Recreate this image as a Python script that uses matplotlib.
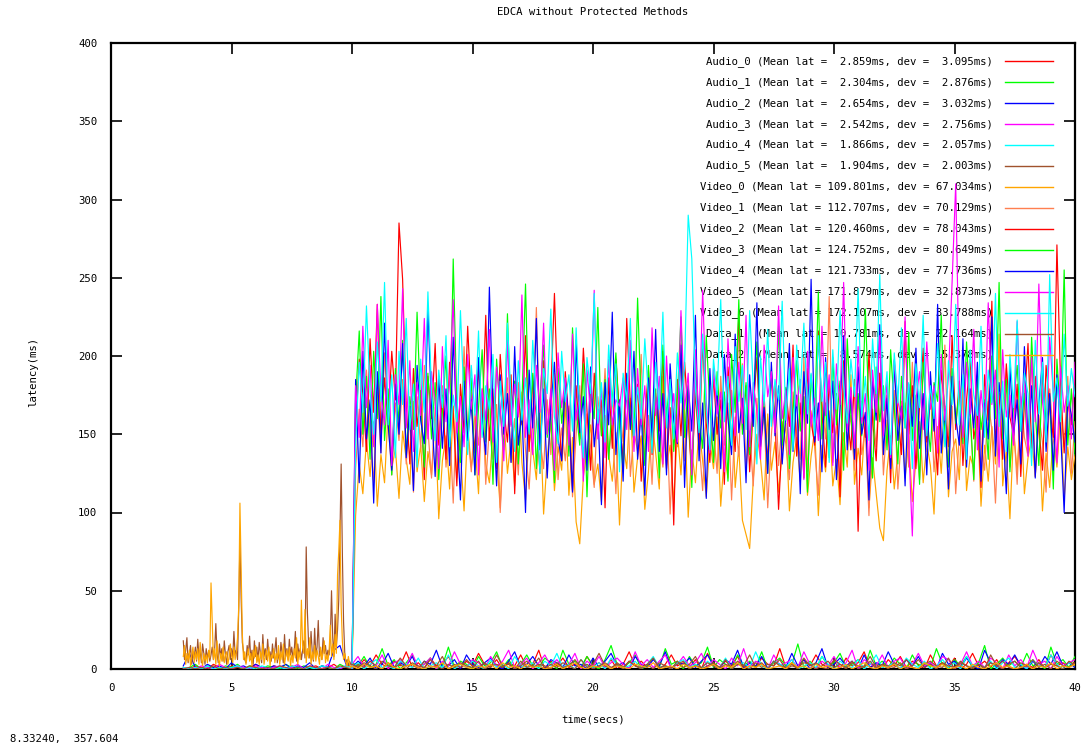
import numpy as np
import matplotlib
matplotlib.use("Agg")
import matplotlib.pyplot as plt

plt.rcParams['font.family'] = ['DejaVu Sans Mono']
FS = 7.7

TITLE = "EDCA without Protected Methods"

# series names and their summary stats (mean latency, deviation) in ms
names = ["Audio_0", "Audio_1", "Audio_2", "Audio_3", "Audio_4", "Audio_5",
         "Video_0", "Video_1", "Video_2", "Video_3", "Video_4", "Video_5", "Video_6",
         "Data_1 ", "Data_2 "]
mean_lat = [2.859, 2.304, 2.654, 2.542, 1.866, 1.904,
            109.801, 112.707, 120.460, 124.752, 121.733, 171.879, 172.107,
            10.781, 8.574]
dev_lat = [3.095, 2.876, 3.032, 2.756, 2.057, 2.003,
           67.034, 70.129, 78.043, 80.649, 77.736, 32.873, 33.788,
           22.164, 15.378]

# gnuplot default line colours
colors = ["red", "#00ff00", "blue", "magenta", "cyan", "sienna",
          "orange", "coral", "red", "#00ff00", "blue", "magenta", "cyan",
          "sienna", "orange"]

# audio latency samples, every 0.25s from 3s to 40s
audio_0 = [1, 0, 2, 1, 0, 3, 1, 0, 2, 1, 0, 1, 3, 1, 0, 2, 1, 0, 2, 1,
           0, 1, 2, 0, 1, 3, 0, 2, 4, 1, 6, 2, 9, 3, 1, 5, 2, 11, 1, 4,
           0, 7, 2, 3, 8, 1, 0, 5, 2, 10, 3, 1, 6, 0, 4, 2, 9, 1, 3, 12,
           0, 5, 2, 7, 1, 3, 0, 8, 2, 4, 1, 6, 0, 3, 11, 2, 5, 1, 7, 0,
           3, 9, 2, 4, 1, 6, 0, 10, 3, 1, 5, 2, 8, 0, 4, 1, 7, 3, 2, 13,
           1, 4, 0, 6, 2, 9, 3, 1, 5, 0, 7, 2, 4, 11, 1, 3, 0, 6, 2, 8,
           1, 5, 3, 0, 9, 2, 4, 1, 7, 0, 3, 10, 2, 5, 1, 6, 0, 4, 8, 2,
           3, 1, 6, 0, 9, 2, 4, 1, 5]
audio_1 = [0, 1, 3, 0, 2, 1, 0, 2, 1, 3, 0, 2, 1, 0, 2, 1, 0, 3, 1, 0,
           2, 1, 0, 2, 1, 0, 3, 1, 4, 2, 8, 1, 3, 13, 2, 6, 0, 4, 9, 1,
           3, 7, 0, 2, 14, 1, 5, 3, 0, 8, 2, 4, 11, 1, 6, 0, 3, 9, 2, 1,
           7, 4, 0, 12, 3, 5, 1, 8, 2, 0, 6, 15, 3, 1, 4, 9, 0, 2, 7, 1,
           13, 3, 5, 0, 8, 2, 4, 14, 1, 6, 3, 0, 9, 2, 5, 1, 11, 0, 4, 7,
           2, 3, 16, 1, 5, 0, 8, 2, 4, 10, 1, 3, 6, 0, 12, 2, 5, 1, 7, 3,
           0, 9, 2, 4, 1, 13, 3, 0, 6, 2, 8, 1, 4, 15, 0, 3, 7, 2, 5, 1,
           10, 2, 4, 0, 14, 3, 6, 1, 8]
audio_2 = [2, 10, 1, 0, 3, 1, 2, 0, 4, 1, 2, 0, 3, 1, 0, 2, 1, 3, 0, 2,
           1, 4, 0, 2, 1, 12, 15, 3, 1, 5, 2, 7, 0, 3, 10, 1, 4, 2, 8, 0,
           5, 3, 12, 1, 2, 6, 0, 9, 3, 1, 4, 7, 2, 0, 5, 11, 1, 3, 8, 2,
           0, 6, 4, 1, 9, 2, 3, 0, 7, 1, 5, 10, 2, 4, 0, 8, 3, 1, 6, 2,
           11, 0, 4, 3, 7, 1, 5, 9, 2, 0, 6, 3, 12, 1, 4, 2, 8, 0, 5, 3,
           1, 10, 2, 6, 0, 4, 13, 1, 3, 7, 2, 5, 0, 9, 1, 4, 2, 11, 3, 0,
           6, 2, 8, 1, 4, 0, 10, 3, 5, 1, 7, 2, 0, 12, 4, 1, 6, 3, 9, 2,
           0, 5, 1, 8, 3, 11, 2, 4, 1]
audio_3 = [0, 1, 0, 2, 1, 0, 3, 1, 0, 2, 1, 0, 2, 1, 0, 1, 2, 0, 1, 3,
           0, 2, 1, 0, 3, 1, 0, 2, 3, 8, 1, 5, 2, 9, 0, 4, 6, 2, 10, 1,
           3, 7, 0, 5, 2, 11, 3, 1, 6, 4, 0, 8, 2, 5, 12, 1, 3, 7, 0, 4,
           9, 2, 6, 1, 3, 10, 0, 5, 2, 8, 1, 4, 7, 3, 0, 11, 2, 6, 1, 5,
           9, 0, 3, 8, 2, 4, 10, 1, 6, 3, 0, 7, 2, 13, 1, 5, 3, 0, 9, 2,
           4, 6, 1, 11, 3, 0, 5, 2, 8, 1, 4, 12, 0, 6, 3, 2, 9, 1, 5, 7,
           0, 3, 10, 2, 4, 1, 8, 6, 0, 3, 11, 2, 5, 1, 7, 4, 0, 9, 2, 6,
           1, 12, 3, 5, 0, 8, 2, 4, 6]
audio_4 = [1, 0, 1, 0, 2, 0, 1, 0, 1, 2, 0, 1, 0, 2, 1, 0, 1, 0, 2, 1,
           0, 1, 0, 2, 1, 0, 1, 2, 1, 4, 0, 3, 6, 1, 2, 0, 5, 3, 1, 7,
           0, 2, 4, 1, 9, 0, 3, 1, 5, 2, 0, 6, 1, 3, 0, 8, 2, 1, 4, 0,
           5, 2, 10, 1, 3, 0, 6, 2, 1, 4, 0, 7, 3, 1, 2, 5, 0, 3, 8, 1,
           2, 0, 4, 6, 1, 3, 0, 5, 2, 1, 7, 0, 3, 4, 1, 11, 2, 0, 5, 3,
           1, 6, 0, 2, 4, 1, 8, 3, 0, 5, 2, 1, 6, 0, 3, 9, 1, 2, 4, 0,
           7, 3, 1, 5, 0, 2, 6, 1, 4, 0, 8, 2, 3, 1, 5, 0, 4, 7, 1, 3,
           0, 6, 2, 1, 9, 3, 0, 4, 2]
audio_5 = [0, 1, 0, 1, 0, 2, 0, 1, 0, 1, 0, 2, 1, 0, 1, 0, 2, 1, 0, 1,
           0, 2, 1, 0, 1, 0, 2, 1, 0, 3, 1, 5, 2, 0, 4, 1, 7, 2, 3, 0,
           5, 1, 2, 8, 0, 3, 1, 6, 2, 0, 4, 1, 9, 2, 3, 0, 5, 1, 2, 7,
           0, 3, 1, 4, 2, 0, 6, 1, 3, 10, 2, 0, 4, 1, 5, 2, 0, 3, 7, 1,
           2, 0, 5, 1, 3, 8, 0, 2, 4, 1, 6, 0, 3, 2, 9, 1, 4, 0, 5, 2,
           1, 3, 0, 7, 2, 4, 1, 0, 6, 3, 1, 5, 0, 2, 8, 1, 3, 0, 4, 2,
           6, 1, 0, 3, 5, 2, 1, 7, 0, 4, 2, 1, 3, 0, 9, 2, 5, 1, 0, 4,
           2, 6, 1, 3, 0, 5, 2, 1, 4]

# video latency samples, every 0.15s from 10s to 40s
video_0 = [0, 98, 131, 112, 146, 123, 158, 104, 137, 119, 165, 128, 141, 109, 152, 134, 118, 171, 126, 143,
           107, 139, 124, 160, 96, 133, 149, 115, 168, 122, 138, 101, 155, 129, 144, 112, 176, 131, 119, 150,
           136, 103, 161, 125, 147, 117, 183, 132, 108, 154, 140, 121, 166, 99, 135, 158, 114, 142, 127, 170,
           111, 148, 94, 80, 123, 139, 156, 118, 131, 107, 162, 137, 120, 151, 92, 144, 128, 173, 113, 135,
           149, 102, 126, 159, 138, 115, 187, 130, 143, 106, 152, 124, 167, 97, 140, 119, 155, 133, 110, 146,
           128, 161, 104, 137, 122, 178, 116, 142, 95, 86, 77, 121, 150, 134, 108, 163, 127, 145, 113, 139,
           157, 101, 132, 148, 120, 174, 111, 136, 153, 98, 143, 126, 165, 117, 134, 105, 151, 129, 188, 118,
           141, 124, 160, 103, 135, 112, 90, 82, 127, 149, 115, 138, 171, 122, 146, 107, 133, 158, 119, 144,
           130, 99, 154, 125, 168, 110, 139, 147, 121, 182, 114, 136, 128, 162, 104, 143, 120, 155, 131, 214,
           117, 140, 96, 152, 126, 169, 112, 135, 148, 123, 159, 101, 138, 116, 150, 129, 164, 108, 142, 121,
           137]
video_1 = [0, 128, 166, 142, 191, 150, 119, 177, 138, 202, 158, 124, 170, 146, 185, 131, 161, 113, 174, 141,
           194, 153, 122, 167, 145, 181, 129, 156, 106, 171, 138, 206, 151, 126, 163, 143, 179, 118, 154, 134,
           169, 100, 148, 186, 132, 160, 124, 177, 140, 115, 158, 231, 146, 128, 172, 137, 189, 121, 154, 133,
           168, 110, 150, 181, 127, 163, 142, 116, 174, 149, 192, 135, 157, 112, 168, 145, 184, 123, 152, 139,
           201, 131, 162, 118, 176, 148, 129, 167, 99, 155, 142, 208, 133, 159, 121, 180, 146, 114, 166, 138,
           154, 125, 187, 143, 170, 108, 161, 136, 195, 128, 152, 117, 173, 140, 163, 103, 149, 182, 130, 158,
           144, 121, 177, 151, 134, 199, 126, 165, 141, 111, 171, 147, 238, 132, 156, 119, 183, 145, 162, 127,
           174, 137, 154, 98, 166, 142, 189, 124, 159, 133, 178, 115, 150, 170, 129, 196, 147, 121, 163, 139,
           181, 126, 155, 143, 207, 131, 168, 112, 149, 176, 138, 160, 120, 185, 144, 127, 171, 153, 106, 164,
           140, 192, 129, 157, 118, 174, 148, 136, 201, 123, 162, 145, 113, 179, 150, 131, 166, 142, 187, 125,
           158]
video_2 = [0, 152, 198, 176, 139, 211, 164, 233, 147, 186, 158, 203, 172, 285, 249, 168, 131, 192, 155, 178,
           121, 187, 160, 208, 143, 175, 134, 196, 163, 117, 182, 151, 219, 170, 138, 194, 157, 226, 146, 179,
           128, 201, 166, 145, 188, 112, 173, 156, 213, 139, 184, 162, 125, 197, 150, 176, 240, 168, 133, 190,
           158, 114, 181, 147, 205, 165, 127, 189, 154, 172, 103, 186, 141, 198, 163, 131, 224, 169, 145, 182,
           120, 160, 191, 137, 174, 152, 203, 128, 167, 92, 185, 149, 196, 161, 124, 178, 140, 210, 157, 132,
           188, 150, 172, 118, 193, 165, 139, 228, 153, 181, 126, 166, 199, 144, 175, 131, 187, 160, 102, 148,
           179, 155, 207, 136, 170, 122, 192, 158, 143, 216, 164, 129, 184, 151, 176, 110, 197, 162, 140, 185,
           88, 171, 148, 202, 159, 133, 189, 154, 175, 119, 194, 163, 137, 222, 150, 181, 128, 168, 205, 145,
           177, 157, 124, 191, 166, 142, 213, 153, 184, 130, 172, 198, 147, 163, 116, 188, 159, 235, 144, 176,
           134, 195, 161, 150, 182, 123, 170, 208, 141, 187, 155, 127, 194, 166, 148, 271, 183, 138, 172, 156,
           190]
video_3 = [0, 171, 216, 150, 187, 134, 203, 160, 238, 146, 179, 124, 192, 157, 210, 137, 174, 153, 228, 165,
           129, 189, 147, 183, 121, 164, 200, 142, 262, 168, 132, 193, 150, 186, 124, 167, 204, 145, 179, 118,
           198, 163, 140, 227, 156, 184, 131, 170, 246, 152, 189, 128, 174, 207, 148, 163, 119, 192, 157, 181,
           136, 218, 166, 143, 195, 110, 176, 160, 231, 149, 185, 134, 171, 202, 155, 126, 188, 163, 145, 237,
           169, 130, 194, 151, 179, 122, 207, 161, 187, 139, 173, 225, 148, 182, 116, 196, 159, 141, 213, 168,
           132, 190, 154, 177, 120, 201, 164, 236, 150, 183, 137, 172, 209, 146, 168, 125, 191, 158, 219, 143,
           180, 128, 165, 197, 152, 174, 113, 188, 161, 241, 147, 170, 135, 199, 156, 184, 127, 211, 162, 138,
           176, 149, 230, 165, 122, 193, 158, 181, 140, 204, 167, 131, 187, 154, 215, 146, 175, 118, 196, 163,
           139, 183, 171, 226, 150, 129, 192, 157, 178, 144, 209, 165, 121, 188, 153, 172, 134, 200, 160, 247,
           147, 185, 126, 169, 194, 152, 176, 138, 212, 164, 130, 189, 157, 174, 115, 198, 161, 255, 143, 179,
           137]
video_4 = [0, 185, 119, 203, 147, 172, 106, 190, 138, 221, 156, 127, 182, 150, 208, 135, 168, 114, 194, 159,
           144, 231, 166, 123, 187, 141, 179, 130, 212, 155, 108, 184, 146, 172, 124, 199, 159, 137, 244, 164,
           117, 188, 150, 176, 132, 206, 143, 166, 100, 191, 154, 224, 140, 179, 122, 168, 196, 147, 133, 185,
           158, 113, 210, 151, 174, 127, 193, 142, 166, 105, 183, 156, 228, 137, 172, 120, 189, 153, 203, 134,
           165, 111, 186, 148, 217, 139, 176, 124, 195, 158, 144, 207, 116, 181, 152, 226, 133, 170, 109, 192,
           146, 178, 128, 201, 160, 137, 214, 151, 173, 119, 188, 155, 234, 142, 167, 125, 196, 149, 181, 131,
           162, 208, 139, 175, 112, 190, 157, 249, 145, 170, 126, 199, 153, 184, 121, 167, 213, 140, 178, 134,
           193, 150, 164, 108, 186, 159, 220, 137, 173, 128, 197, 146, 168, 117, 182, 155, 205, 141, 176, 124,
           190, 152, 233, 138, 166, 115, 187, 161, 143, 211, 129, 179, 154, 196, 120, 170, 147, 225, 136, 183,
           158, 112, 194, 149, 172, 131, 206, 145, 181, 122, 168, 199, 139, 176, 127, 188, 153, 100, 174, 162,
           145]
video_5 = [0, 181, 148, 219, 167, 194, 142, 233, 176, 156, 210, 130, 188, 169, 243, 154, 197, 139, 183, 162,
           224, 147, 190, 171, 128, 206, 158, 183, 236, 151, 174, 142, 201, 166, 188, 124, 179, 159, 217, 145,
           193, 168, 133, 210, 155, 182, 161, 239, 148, 172, 137, 194, 164, 221, 150, 179, 127, 202, 167, 186,
           143, 214, 159, 175, 120, 191, 164, 242, 147, 180, 135, 198, 156, 172, 168, 186, 153, 210, 139, 192,
           156, 181, 139, 218, 162, 187, 131, 200, 154, 176, 145, 229, 166, 189, 124, 204, 158, 242, 171, 138,
           192, 163, 177, 126, 211, 170, 149, 196, 157, 226, 142, 183, 165, 134, 207, 174, 190, 151, 232, 160,
           178, 137, 199, 168, 185, 121, 203, 155, 173, 146, 219, 162, 188, 130, 195, 169, 247, 152, 180, 141,
           206, 157, 176, 127, 191, 164, 213, 149, 184, 135, 198, 171, 160, 225, 144, 85, 172, 190, 153, 209,
           166, 181, 138, 201, 159, 187, 247, 310, 182, 148, 196, 163, 217, 140, 178, 155, 234, 169, 191, 129,
           204, 161, 175, 143, 222, 167, 188, 136, 199, 158, 246, 171, 150, 212, 176, 132, 193, 164, 181, 147,
           196]
video_6 = [0, 143, 196, 164, 232, 177, 150, 209, 171, 247, 156, 188, 135, 203, 169, 224, 153, 182, 129, 198,
           164, 241, 178, 146, 191, 167, 213, 142, 175, 158, 229, 170, 137, 194, 162, 216, 148, 181, 166, 201,
           132, 184, 155, 221, 173, 139, 197, 159, 186, 150, 210, 168, 125, 192, 176, 230, 161, 144, 203, 171,
           188, 152, 218, 163, 135, 199, 176, 240, 157, 183, 145, 207, 168, 195, 126, 189, 172, 224, 149, 180,
           160, 211, 174, 138, 196, 166, 228, 154, 185, 147, 202, 170, 193, 290, 262, 179, 151, 214, 165, 140,
           198, 175, 236, 158, 187, 143, 206, 171, 194, 153, 229, 180, 131, 200, 168, 217, 155, 185, 172, 235,
           159, 192, 140, 207, 176, 221, 163, 189, 149, 213, 171, 196, 132, 204, 166, 229, 180, 157, 198, 174,
           243, 161, 187, 146, 211, 176, 252, 165, 190, 137, 202, 170, 218, 154, 183, 128, 195, 167, 226, 149,
           181, 160, 208, 173, 142, 197, 169, 233, 156, 188, 134, 204, 175, 162, 219, 148, 191, 170, 240, 155,
           184, 139, 201, 167, 223, 152, 189, 176, 130, 210, 163, 196, 145, 252, 171, 186, 158, 214, 168, 192,
           174]

# best-effort data traffic: every 0.05s from 3s to 9.95s, then every 0.25s to 40s
data_1_early = [18, 6, 12, 20, 4, 9, 15, 3, 11, 7, 14, 5, 19, 8, 12, 4, 16, 10, 3, 13,
                7, 11, 5, 9, 14, 6, 12, 29, 10, 4, 16, 8, 13, 5, 18, 9, 3, 11, 15, 6,
                13, 7, 24, 9, 12, 6, 38, 82, 45, 17, 11, 6, 4, 15, 9, 21, 6, 12, 3, 18,
                8, 14, 5, 17, 10, 4, 22, 8, 13, 6, 19, 9, 11, 5, 16, 7, 12, 20, 4, 10,
                5, 17, 10, 4, 22, 8, 13, 6, 19, 9, 14, 7, 11, 24, 5, 16, 9, 13, 6, 12,
                18, 7, 78, 36, 16, 7, 24, 11, 5, 26, 9, 14, 31, 8, 12, 6, 20, 10, 15, 7,
                12, 9, 19, 50, 20, 8, 35, 14, 25, 44, 85, 131, 74, 30, 10, 4, 6, 2, 5, 3]
data_1_late = [3, 1, 4, 2, 0, 5, 2, 1, 3, 0, 4, 2, 1, 6, 2, 0, 3, 1, 4, 2,
               1, 5, 0, 2, 3, 1, 4, 0, 2, 5, 1, 3, 2, 0, 4, 1, 2, 6, 1, 3,
               0, 2, 4, 1, 3, 0, 5, 2, 1, 3, 0, 4, 2, 1, 3, 5, 0, 2, 1, 4,
               2, 0, 3, 1, 5, 2, 0, 4, 1, 3, 2, 6, 0, 2, 1, 4, 3, 0, 2, 5,
               1, 3, 0, 4, 2, 1, 5, 0, 3, 2, 1, 4, 0, 2, 6, 1, 3, 0, 4, 2,
               1, 5, 2, 0, 3, 1, 4, 2, 0, 3, 5, 1, 2, 0, 4, 1, 3, 2, 0, 5,
               2]
data_2_early = [8, 15, 3, 10, 5, 12, 2, 9, 14, 4, 11, 6, 13, 3, 17, 7, 2, 10, 5, 9,
                4, 12, 7, 55, 30, 6, 13, 3, 18, 7, 2, 10, 5, 14, 4, 9, 11, 3, 8, 16,
                9, 4, 14, 6, 11, 20, 40, 106, 62, 22, 6, 11, 3, 8, 13, 5, 10, 2, 12, 7,
                15, 4, 9, 3, 11, 6, 16, 3, 8, 12, 5, 14, 2, 9, 7, 13, 4, 10, 6, 15,
                3, 11, 6, 16, 3, 8, 12, 5, 14, 2, 9, 4, 13, 7, 20, 3, 11, 6, 44, 15,
                10, 38, 4, 13, 7, 20, 3, 11, 6, 15, 5, 12, 8, 3, 14, 6, 10, 18, 4, 9,
                5, 12, 28, 8, 16, 6, 22, 10, 60, 75, 95, 40, 18, 6, 10, 4, 2, 8, 3, 1]
data_2_late = [2, 0, 3, 1, 2, 0, 4, 1, 0, 2, 3, 1, 0, 2, 1, 4, 0, 2, 3, 1,
               0, 2, 1, 3, 0, 4, 1, 2, 0, 3, 1, 2, 0, 1, 3, 0, 2, 4, 1, 0,
               2, 1, 3, 0, 2, 1, 0, 3, 2, 1, 4, 0, 1, 2, 0, 3, 1, 2, 0, 1,
               3, 0, 2, 1, 4, 0, 2, 1, 3, 0, 1, 2, 0, 4, 1, 2, 0, 3, 1, 2,
               0, 1, 3, 0, 2, 4, 1, 0, 2, 1, 3, 0, 2, 1, 0, 4, 2, 1, 3, 0,
               1, 2, 0, 3, 1, 0, 2, 4, 1, 2, 0, 1, 3, 0, 2, 1, 4, 0, 2, 1,
               3]


def data_series(early, late):
    t = np.concatenate([np.linspace(3.0, 9.95, len(early)), np.linspace(10.0, 40.0, len(late))])
    return t, np.array(early + late)


series = []
for a in [audio_0, audio_1, audio_2, audio_3, audio_4, audio_5]:
    series.append((np.linspace(3.0, 40.0, len(a)), np.array(a)))
for v in [video_0, video_1, video_2, video_3, video_4, video_5, video_6]:
    series.append((np.linspace(10.0, 40.0, len(v)), np.array(v)))
series.append(data_series(data_1_early, data_1_late))
series.append(data_series(data_2_early, data_2_late))

fig = plt.figure(figsize=(10.88, 7.43), dpi=100)
ax = fig.add_axes([111 / 1088, 74 / 743, 964 / 1088, 626 / 743])

# key: right-aligned label, then a short sample line, drawn under the data
for i, name in enumerate(names):
    if mean_lat[i] >= 100:
        label = "%s (Mean lat = %.3fms, dev = %6.3fms)" % (name, mean_lat[i], dev_lat[i])
    else:
        label = "%s (Mean lat = %6.3fms, dev = %6.3fms)" % (name, mean_lat[i], dev_lat[i])
    y = 0.971 - i * 0.0335
    ax.text(0.915, y, label, transform=ax.transAxes, ha='right', va='center',
            fontsize=FS, zorder=1)
    ax.plot([0.927, 0.977], [y, y], transform=ax.transAxes, color=colors[i], lw=1, zorder=2 + i)

for i, (t, v) in enumerate(series):
    ax.plot(t, v, color=colors[i], lw=0.85, zorder=2 + i)

ax.set_xlim(0, 40)
ax.set_ylim(0, 400)
ax.set_xticks(range(0, 41, 5))
ax.set_yticks(range(0, 401, 50))
ax.tick_params(direction='in', length=8, width=1.2, top=True, right=True,
               labelsize=FS, pad=10, colors='black')
for s in ax.spines.values():
    s.set_linewidth(1.6)

fig.text(593 / 1088, 1 - 12 / 743, TITLE, ha='center', va='center', fontsize=FS)
fig.text(593 / 1088, 1 - 720 / 743, "time(secs)", ha='center', va='center', fontsize=FS)
fig.text(33 / 1088, 1 - 372 / 743, "latency(ms)", ha='center', va='center', rotation=90, fontsize=FS)
fig.text(10 / 1088, 1 - 739 / 743, "8.33240,  357.604", ha='left', va='center', fontsize=FS)

fig.savefig("out.png", dpi=100)
